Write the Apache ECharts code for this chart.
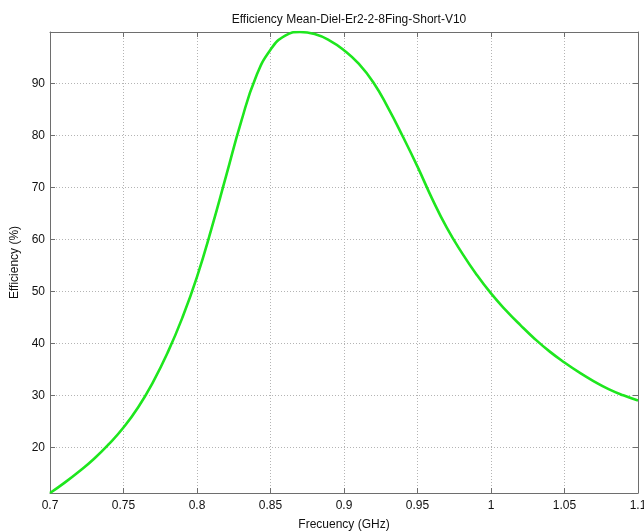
<!DOCTYPE html>
<html>
<head>
<meta charset="utf-8">
<title>Efficiency Mean-Diel-Er2-2-8Fing-Short-V10</title>
<script src="https://cdn.jsdelivr.net/npm/echarts@6/dist/echarts.min.js"></script>
<style>
  html, body { margin: 0; padding: 0; background: #fff; }
  #chart { width: 644px; height: 531px; }
</style>
</head>
<body>
<div id="chart"></div>
<script>
// frequency (GHz) and mean efficiency (%)
var freq = [0.70, 0.71, 0.72, 0.73, 0.74, 0.75, 0.76, 0.77, 0.78, 0.79,
  0.80, 0.81, 0.82, 0.83, 0.84, 0.85, 0.86, 0.87, 0.88, 0.89,
  0.90, 0.91, 0.92, 0.93, 0.94, 0.95, 0.96, 0.97, 0.98, 0.99,
  1.00, 1.01, 1.02, 1.03, 1.04, 1.05, 1.06, 1.07, 1.08, 1.09, 1.10];
var efficiency = [11.2, 13.2, 15.4, 17.8, 20.6, 23.8, 27.7, 32.5, 38.2, 44.9,
  52.8, 62.2, 72.4, 82.6, 91.2, 96.5, 99.2, 99.9, 99.5, 98.3,
  96.4, 93.8, 90.2, 85.3, 79.8, 74.0, 67.8, 62.2, 57.5, 53.3,
  49.6, 46.4, 43.5, 40.8, 38.4, 36.3, 34.4, 32.7, 31.2, 30.0, 29.0];

var yMin = 11.2, yMax = 99.9;

var points = freq.map(function (f, i) { return [f, efficiency[i]]; });

var font = 'Liberation Sans, Arial, sans-serif';
var axisCol = '#6e6e6e';
var gridLine = { show: true, lineStyle: { color: '#b4b4b4', type: [1, 2], width: 1 } };

var chart = echarts.init(document.getElementById('chart'));
chart.setOption({
  animation: false,
  backgroundColor: '#fff',
  title: {
    text: 'Efficiency Mean-Diel-Er2-2-8Fing-Short-V10',
    left: 344, top: 9, textAlign: 'center',
    textStyle: { fontFamily: font, fontSize: 12, fontWeight: 'normal', color: '#111' }
  },
  grid: { left: 50, right: 6, top: 32, bottom: 38, containLabel: false, outerBoundsMode: 'none' },
  xAxis: [{
    type: 'value', min: 0.7, max: 1.1, interval: 0.05,
    name: 'Frecuency (GHz)', nameLocation: 'middle', nameGap: 26,
    nameTextStyle: { fontFamily: font, fontSize: 12, color: '#111' },
    axisLine: { show: true, lineStyle: { color: axisCol, width: 1 } },
    axisTick: { show: true, inside: true, length: 5, lineStyle: { color: axisCol } },
    axisLabel: { fontFamily: font, fontSize: 12, color: '#111', margin: 7 },
    splitLine: gridLine
  }, {
    type: 'value', position: 'top', min: 0.7, max: 1.1, interval: 0.05,
    axisLine: { show: true, lineStyle: { color: axisCol, width: 1 } },
    axisTick: { show: true, inside: true, length: 5, lineStyle: { color: axisCol } },
    axisLabel: { show: false }, splitLine: { show: false }
  }],
  yAxis: [{
    type: 'value', min: yMin, max: yMax, splitNumber: 9,
    name: 'Efficiency (%)', nameLocation: 'middle', nameGap: 20,
    nameTextStyle: { fontFamily: font, fontSize: 12, color: '#111' },
    axisLine: { show: true, lineStyle: { color: axisCol, width: 1 } },
    axisTick: { show: true, inside: true, length: 5, lineStyle: { color: axisCol } },
    axisLabel: {
      fontFamily: font, fontSize: 12, color: '#111', margin: 5,
      showMinLabel: false, showMaxLabel: false,
      formatter: function (v) { return Math.abs(v % 10) < 1e-6 ? String(v) : ''; }
    },
    splitLine: gridLine
  }, {
    type: 'value', position: 'right', min: yMin, max: yMax, splitNumber: 9,
    axisLine: { show: true, lineStyle: { color: axisCol, width: 1 } },
    axisTick: { show: true, inside: true, length: 5, lineStyle: { color: axisCol } },
    axisLabel: { show: false }, splitLine: { show: false }
  }],
  series: [{
    type: 'line',
    data: points,
    smooth: 0.5,
    showSymbol: false,
    lineStyle: { color: '#1ee61e', width: 2.6 },
    clip: true
  }]
});
</script>
</body>
</html>
